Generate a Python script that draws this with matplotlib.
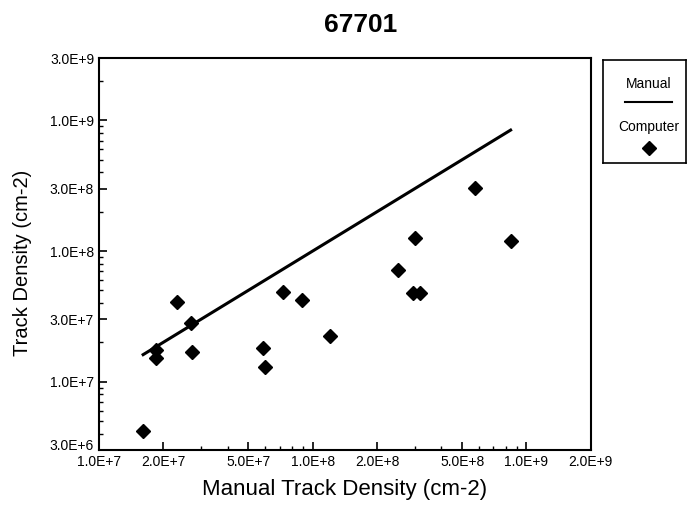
import numpy as np
import matplotlib.pyplot as plt
import matplotlib.transforms as mtransforms
from matplotlib.ticker import NullFormatter, LogLocator
from matplotlib.lines import Line2D

# Track density comparison for sample 67701
# manual counts (x) vs computer counts (y) [cm-2]
manual = [1.61e7, 1.84e7, 1.84e7, 2.31e7, 2.69e7, 2.73e7, 5.87e7, 5.97e7,
          7.28e7, 8.93e7, 1.20e8, 2.51e8, 2.93e8, 3.17e8, 3.00e8, 5.74e8, 8.43e8]
computer = [4.19e6, 1.75e7, 1.51e7, 4.09e7, 2.80e7, 1.68e7, 1.80e7, 1.30e7,
            4.83e7, 4.22e7, 2.24e7, 7.22e7, 4.75e7, 4.75e7, 1.26e8, 3.02e8, 1.19e8]

x_ticks = [1e7, 2e7, 5e7, 1e8, 2e8, 5e8, 1e9, 2e9]
x_labels = ["1.0E+7", "2.0E+7", "5.0E+7", "1.0E+8", "2.0E+8", "5.0E+8", "1.0E+9", "2.0E+9"]
y_ticks = [3e6, 1e7, 3e7, 1e8, 3e8, 1e9, 3e9]
y_labels = ["3.0E+6", "1.0E+7", "3.0E+7", "1.0E+8", "3.0E+8", "1.0E+9", "3.0E+9"]

plt.rcParams['font.family'] = ['Liberation Sans', 'DejaVu Sans']

fig = plt.figure(figsize=(6.87, 5.05), dpi=100)
ax = fig.add_axes([0.144, 0.109, 0.716, 0.776])

# manual line: manual density against itself
m_sorted = np.sort(manual)
ax.plot(m_sorted, m_sorted, color="black", lw=2.2)
ax.plot(manual, computer, linestyle="none", marker="D", ms=7, color="black")

ax.set_xscale('log')
ax.set_yscale('log')
ax.set_xlim(1e7, 2e9)
ax.set_ylim(3e6, 3e9)

ax.set_xticks(x_ticks)
ax.set_xticklabels(x_labels, fontsize=10)
ax.set_yticks(y_ticks)
ax.set_yticklabels(y_labels, fontsize=10)
ax.xaxis.set_minor_locator(LogLocator(base=10, subs=np.arange(2, 10)))
ax.yaxis.set_minor_locator(LogLocator(base=10, subs=np.arange(2, 10)))
ax.xaxis.set_minor_formatter(NullFormatter())
ax.yaxis.set_minor_formatter(NullFormatter())
ax.tick_params(which='major', direction='in', length=6, width=1.2)
ax.tick_params(axis='x', which='major', pad=3.5)
ax.tick_params(which='minor', direction='in', length=3, width=1)

# lift the bottom y label a bit so it clears the first x label
lowest = ax.get_yticklabels()[0]
lowest.set_transform(lowest.get_transform() +
                     mtransforms.ScaledTranslation(0, 4 / 72, fig.dpi_scale_trans))

for sp in ax.spines.values():
    sp.set_linewidth(1.5)

fig.text(0.502, 0.030, "Manual Track Density (cm-2)", fontsize=16, ha='center', va='center')
fig.text(0.033, 0.480, "Track Density (cm-2)", fontsize=14.5, ha='center', va='center',
         rotation=90)
fig.text(0.525, 0.950, "67701", fontsize=19, fontweight='bold', ha='center', va='center')

# legend box outside the plot on the right
lax = fig.add_axes([0.878, 0.677, 0.120, 0.204])
lax.set_xlim(0, 1)
lax.set_ylim(0, 1)
lax.set_xticks([])
lax.set_yticks([])
for sp in lax.spines.values():
    sp.set_linewidth(1.2)
lax.text(0.55, 0.77, "Manual", fontsize=10, ha='center', va='center')
lax.add_line(Line2D([0.27, 0.84], [0.59, 0.59], color="black", lw=1.5))
lax.text(0.55, 0.35, "Computer", fontsize=10, ha='center', va='center')
lax.plot([0.55], [0.145], marker="D", ms=7, color="black")

fig.savefig("out.png", dpi=100)
